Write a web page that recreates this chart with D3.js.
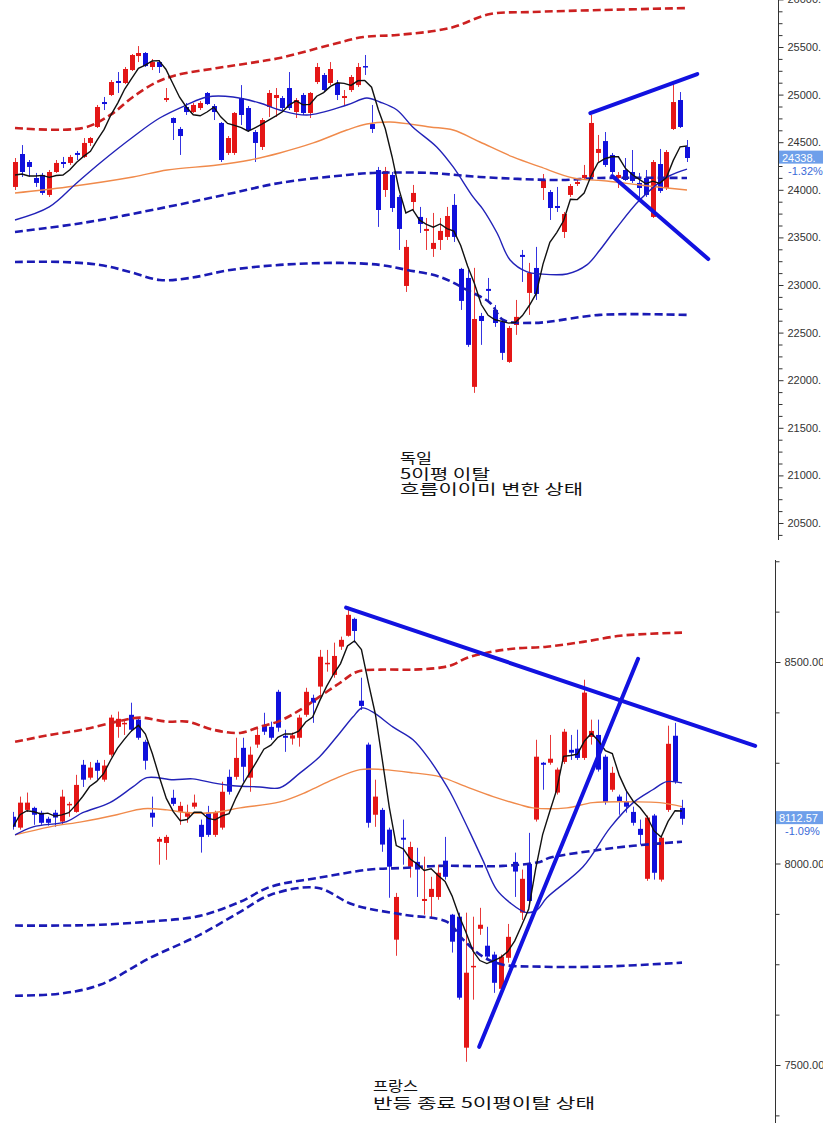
<!DOCTYPE html>
<html><head><meta charset="utf-8">
<script src="https://cdn.jsdelivr.net/npm/d3@7"></script>
<style>body{margin:0;background:#fff}svg{display:block}</style>
</head><body>
<svg id="c" width="823" height="1123"></svg>
<script>
// ===== Germany (top) daily OHLC =====
const deOpen = [24030,24376,24292,24124,24156,23946,24187,24292,24282,24387,24345,24492,24660,24922,24996,25143,25122,25258,25405,25437,25290,25342,24943,24754,24639,24870,24817,24859,25017,24880,24702,24387,24387,24964,24859,24607,24450,24870,24964,24964,25069,24817,24996,24807,25132,25206,25122,25122,24964,25048,25100,25300,24691,24208,23998,24156,23925,22990,23872,23715,23568,23379,23473,23505,23841,23169,23074,21930,22675,22959,22738,22612,22192,22580,23316,22917,23179,24019,23977,23830,23557,23946,24061,24124,24135,24387,24512,24366,24124,24208,24187,24072,24124,23715,24271,24019,24639,24943,24450];
const deHigh = [24334,24470,24313,24177,24177,24208,24313,24345,24366,24408,24544,24555,24891,24975,25153,25237,25290,25426,25510,25447,25374,25363,25069,24760,24660,24912,24912,24933,25027,24901,24712,24565,24817,25100,24880,24628,24754,25048,25069,24985,25237,24964,25017,25027,25332,25227,25342,25153,25048,25206,25332,25416,24891,24240,24240,24187,23946,23473,24051,23820,23704,23757,23704,23820,23956,23180,23158,23180,22707,23074,22790,22633,22570,22843,23368,23232,23400,24166,23998,24030,23767,24061,24103,24261,24786,24576,24607,24387,24187,24334,24418,24177,24208,24313,24429,24418,25143,25027,24523];
const deLow = [23998,24135,24135,24030,23946,23925,24177,24229,24261,24313,24334,24460,24649,24838,24985,25017,25111,25248,25342,25290,25258,25227,24922,24523,24366,24786,24807,24838,24891,24733,24292,24366,24366,24681,24607,24292,24418,24765,24765,24838,24838,24754,24786,24754,25111,25027,25100,24943,24891,25027,25080,25206,24597,23610,23925,23767,23368,22927,23788,23547,23368,23295,23368,23473,23452,22738,22350,21867,22371,22822,22560,22213,22182,22476,23032,22686,22843,23893,23683,23767,23494,23925,24040,24103,24124,24292,24240,24166,24019,24093,24072,23893,23925,23704,23967,23998,24628,24649,24292];
const deClose = [24292,24187,24240,24072,23967,24187,24282,24271,24345,24366,24492,24544,24870,24901,25132,25122,25269,25416,25437,25300,25342,25290,24964,24702,24565,24817,24891,24912,24901,24817,24313,24544,24807,24786,24628,24492,24733,25017,24996,24859,24859,24943,24807,25017,25290,25048,25269,24996,24985,25185,25290,25290,24639,23788,24198,23809,23589,23400,23967,23641,23589,23442,23568,23725,23505,22833,22371,22643,22622,22938,22601,22287,22549,22665,23295,23127,22906,24103,23809,23809,23746,24040,24082,24156,24702,24429,24261,24187,24156,24103,24093,24019,23946,24292,23988,24397,24922,24660,24334];
const deMa5Head = [24156,24166,24145,24145];
// lines: [candle index, value]
const deMa20 = [[0,23683],[5,23820],[9,24072],[12.4,24282],[17.2,24555],[21.1,24754],[25,24891],[28,24975],[31.8,24975],[35.7,24912],[38.6,24838],[42.6,24786],[48.4,24891],[51.3,24964],[53.2,24922],[55.7,24838],[58,24660],[61.5,24450],[63.9,24240],[66.8,23925],[68.2,23800],[70.3,23546],[72.2,23263],[74.7,23137],[76.6,23116],[80.5,23116],[83.4,23211],[85.3,23368],[87.5,23578],[91.1,23893],[95.1,24134],[98,24218]];
const deMa60 = [[0,23967],[7.6,24030],[17.2,24135],[22.2,24208],[29.5,24260],[34.3,24313],[38.6,24387],[43.5,24492],[48.4,24628],[51.3,24691],[54.7,24712],[60.5,24660],[63.9,24628],[67.8,24502],[72.6,24345],[76.6,24240],[81.4,24124],[86.3,24093],[91.1,24051],[95.1,24019],[98,23998]];
const deEnvUpper = [[0,24649],[9.9,24649],[13.9,24786],[17.2,24975],[20.7,25132],[23.6,25206],[29.5,25279],[34.3,25332],[38.6,25384],[45.9,25520],[50.8,25605],[55.7,25626],[63.4,25699],[69.3,25846],[75.1,25867],[85.3,25888],[98,25909]];
const deEnvMid = [[0,23557],[9.9,23652],[22.2,23820],[31.8,23967],[38.6,24072],[48.4,24156],[52.2,24177],[60.5,24177],[67.8,24135],[79.5,24103],[85.3,24124],[98,24124]];
const deEnvLower = [[0,23242],[6.6,23242],[12.4,23211],[16.8,23137],[21.1,23053],[25.5,23074],[31.4,23158],[38.6,23211],[47.4,23232],[53.2,23211],[57.2,23158],[62,23085],[65.9,22948],[69.3,22812],[71.2,22633],[75.5,22602],[77.6,22612],[85.3,22686],[98,22686]];
const deTrendlines = [[[83.9,24806],[99.5,25216]],[[87.1,24145],[101.1,23273]]];
const deLast = {value:24338, label:"24338.", change:"-1.32%"};
const deNote = ["독일","5이평 이탈","흐름이이미 변한 상태"];

// ===== France (bottom) daily OHLC =====
const frOpen = [8116,8089,8133,8138,8126,8111,8126,8104,8146,8128,8245,8213,8250,8208,8270,8339,8347,8369,8357,8302,8126,8054,8051,8163,8128,8116,8141,8096,8126,8071,8089,8215,8215,8287,8213,8295,8344,8339,8426,8317,8310,8312,8369,8411,8439,8496,8468,8538,8565,8607,8404,8295,8121,8133,8084,7811,8064,7992,8004,7907,7917,7917,8007,7873,7868,7543,7744,7838,7796,7774,7689,7766,8004,7878,7999,8109,8250,8250,8176,8252,8282,8285,8262,8314,8319,8265,8183,8166,8153,8128,8086,7962,8119,7960,8133,8317,8138];
const frHigh = [8128,8166,8176,8141,8131,8116,8133,8183,8153,8220,8257,8252,8257,8257,8369,8377,8357,8399,8362,8307,8166,8066,8071,8183,8153,8146,8171,8109,8143,8131,8203,8233,8312,8312,8290,8337,8374,8352,8431,8332,8325,8369,8436,8419,8530,8530,8548,8563,8637,8610,8461,8300,8208,8138,8089,7927,8109,8054,8039,8017,7967,7997,8066,7875,7878,7878,7868,7890,7843,7781,7774,7850,8027,7985,8076,8307,8252,8319,8238,8334,8319,8332,8456,8357,8357,8270,8240,8171,8183,8141,8109,8119,8123,8069,8342,8349,8158];
const frLow = [8084,8084,8128,8096,8096,8094,8091,8096,8116,8126,8190,8208,8208,8203,8265,8312,8319,8327,8307,8233,8091,7997,8009,8143,8096,8101,8136,8027,8066,8066,8084,8171,8208,8203,8178,8287,8319,8307,8327,8277,8295,8290,8364,8349,8419,8476,8461,8530,8563,8548,8381,8089,8091,8029,7915,7771,7997,7965,7917,7873,7865,7910,7960,7779,7662,7508,7662,7823,7761,7679,7687,7754,7917,7860,7903,8104,8183,8245,8171,8247,8257,8257,8257,8295,8228,8146,8178,8121,8126,8094,8047,7957,7960,7955,8128,8198,8096];
const frClose = [8091,8151,8151,8121,8101,8101,8114,8166,8148,8195,8208,8238,8230,8243,8362,8359,8349,8332,8312,8255,8114,8061,8066,8148,8143,8128,8151,8066,8071,8126,8178,8178,8262,8240,8270,8319,8327,8312,8337,8312,8318,8362,8426,8399,8513,8498,8515,8555,8617,8577,8391,8101,8166,8047,7992,7917,8059,8041,7985,7912,7937,7977,7967,7806,7667,7729,7746,7848,7769,7704,7769,7818,7980,7962,7907,8265,8245,8260,8233,8327,8275,8262,8424,8329,8233,8153,8225,8153,8141,8101,8071,8114,7977,8064,8297,8203,8111];
const frMa5Head = [];
const frMa20 = [[0.3,8071],[2.9,8091],[7.7,8104],[10,8126],[13.9,8151],[17.2,8190],[19.2,8213],[23,8208],[25.8,8210],[28.7,8200],[31.6,8193],[35.4,8190],[38.3,8188],[41.2,8225],[44,8265],[46.9,8324],[48.8,8364],[50.1,8386],[51.6,8376],[54.5,8339],[57.4,8307],[59.8,8257],[62.3,8190],[63.1,8165],[65.6,8076],[67.4,8009],[69.4,7935],[71.3,7903],[73.7,7878],[75.2,7885],[76.6,7915],[81.8,7992],[85.7,8089],[89,8151],[91.8,8183],[93.8,8203],[96,8200]];
const frMa60 = [[0.3,8071],[5.3,8091],[10,8104],[14.9,8121],[18.7,8136],[22.1,8133],[25,8126],[28.7,8126],[32.6,8138],[38.3,8153],[42.2,8178],[45.9,8208],[49.8,8233],[53.1,8233],[57.4,8225],[61.3,8215],[65.1,8190],[68.9,8166],[72.7,8146],[74.6,8138],[79.5,8138],[83.2,8151],[89,8153],[92.8,8151],[96,8141]];
const frEnvUpper = [[0.3,8302],[5.3,8319],[10,8332],[14.9,8352],[18.2,8362],[22.1,8352],[25,8352],[28.7,8332],[32.6,8324],[35.4,8339],[38.3,8354],[41.2,8381],[44,8414],[46.9,8448],[49.4,8476],[52.7,8481],[57.4,8481],[61.3,8486],[63.1,8493],[65.1,8510],[68,8523],[71.7,8533],[76.6,8538],[81.8,8550],[87.1,8565],[91.4,8570],[96,8573]];
const frEnvMid = [[0.3,7846],[6.7,7846],[12.5,7848],[19.7,7856],[26.8,7870],[32.6,7905],[36.9,7942],[44,7965],[51.2,7985],[56,7989],[60.8,7994],[70.3,7994],[75.6,8004],[77,8014],[84.2,8034],[89,8044],[96,8054]];
const frEnvLower = [[0.3,7672],[6.7,7677],[12.5,7699],[19.7,7766],[26.8,7823],[32.6,7880],[36.9,7922],[43.6,7940],[48.8,7898],[56,7873],[62.3,7855],[64.6,7811],[67.4,7769],[70.3,7749],[75.6,7744],[84.2,7744],[96,7754]];
const frTrendlines = [[[47.8,8635],[106.5,8292]],[[66.9,7545],[89.7,8508]]];
const frLast = {value:8112.57, label:"8112.57", change:"-1.09%"};
const frNote = ["프랑스","반등 종료 5이평이탈 상태"];

// ===== drawing =====
const svg = d3.select("#c");
const UP = "#e41616", DOWN = "#1010dc";

function drawPanel(id, d, L) {
  const n = d.close.length;
  const x = d3.scaleLinear().domain([0, n - 1]).range([L.x0, L.x1]);
  const y = d3.scaleLinear().domain(L.vDomain).range(L.yRange);
  const g = svg.append("g");
  g.append("clipPath").attr("id", "clip" + id).append("rect")
    .attr("x", L.clip[0]).attr("y", L.clip[1]).attr("width", L.clip[2] - L.clip[0]).attr("height", L.clip[3] - L.clip[1]);
  const plot = g.append("g").attr("clip-path", `url(#clip${id})`);

  const bars = d3.range(n).map(i => ({i, o: d.open[i], h: d.high[i], l: d.low[i], c: d.close[i]}));
  const cx = i => Math.round(x(i));
  plot.selectAll("line.wick").data(bars).join("line").attr("class", "wick")
    .attr("x1", b => cx(b.i) + 0.5).attr("x2", b => cx(b.i) + 0.5)
    .attr("y1", b => y(b.h)).attr("y2", b => y(b.l))
    .attr("stroke", b => b.c >= b.o ? UP : DOWN).attr("stroke-width", 1).attr("stroke-opacity", 0.85);
  plot.selectAll("rect.body").data(bars).join("rect").attr("class", "body")
    .attr("x", b => cx(b.i) - 2).attr("width", 5)
    .attr("y", b => Math.min(y(b.o), y(b.c)))
    .attr("height", b => Math.max(1.5, Math.abs(y(b.o) - y(b.c))))
    .attr("fill", b => b.c >= b.o ? UP : DOWN);

  const smooth = d3.line().x(p => x(p[0])).y(p => y(p[1])).curve(d3.curveCatmullRom.alpha(0.5));
  const dash = (pts, col) => plot.append("path").attr("d", smooth(pts)).attr("fill", "none")
    .attr("stroke", col).attr("stroke-width", 2.6).attr("stroke-dasharray", "8,4");
  dash(d.envUpper, "#cc2020");
  dash(d.envMid, "#1a1ab4");
  dash(d.envLower, "#1a1ab4");
  const solid = (pts, col) => plot.append("path").attr("d", smooth(pts)).attr("fill", "none")
    .attr("stroke", col).attr("stroke-width", 1.4);
  solid(d.ma60, "#f08a4b");
  solid(d.ma20, "#2222b8");

  // 5-day average of the closes
  const ma5 = d3.range(n).map(i => i < d.ma5Head.length ? d.ma5Head[i] : d3.mean(d.close.slice(Math.max(0, i - 4), i + 1)));
  plot.append("path").attr("d", d3.line().x((v, i) => x(i)).y(v => y(v))(ma5))
    .attr("fill", "none").attr("stroke", "#111").attr("stroke-width", 1.4);

  d.trend.forEach(t => plot.append("line")
    .attr("x1", x(t[0][0])).attr("y1", y(t[0][1])).attr("x2", x(t[1][0])).attr("y2", y(t[1][1]))
    .attr("stroke", "#1212e0").attr("stroke-width", 4).attr("stroke-linecap", "round"));

  // axis
  const ax = g.append("g").attr("transform", `translate(${L.axisX},0)`);
  ax.append("line").attr("x1", 0.5).attr("x2", 0.5).attr("y1", L.axisY[0]).attr("y2", L.axisY[1]).attr("stroke", "#333");
  const ticks = d3.range(L.tickRange[0], L.tickRange[1] + 1, 125);
  const axis = d3.axisRight(y).tickValues(ticks)
    .tickFormat(v => v % 500 === 0 ? L.fmt(v) : "").tickSize(4).tickPadding(5).tickSizeOuter(0);
  const axg = ax.append("g").attr("transform", "translate(0.5,0)").call(axis);
  axg.select(".domain").remove();
  axg.selectAll(".tick line").attr("stroke", "#333").attr("x2", v => v % 500 === 0 ? 5 : 4);
  axg.selectAll(".tick text").attr("fill", "#333").attr("font-size", 11)
    .attr("font-family", "Liberation Sans, Arial, sans-serif").attr("x", 9);

  // last price tag
  const ly = y(d.last.value);
  g.append("rect").attr("x", L.axisX + 1).attr("y", ly - 7).attr("width", 50).attr("height", 13).attr("fill", "#6e9fea");
  g.append("text").attr("x", L.axisX + 4).attr("y", ly + 4).text(d.last.label)
    .attr("fill", "#fff").attr("font-size", 11).attr("font-family", "Liberation Sans, Arial, sans-serif");
  g.append("text").attr("x", L.axisX + 10).attr("y", ly + 17).text(d.last.change)
    .attr("fill", "#3a6ad8").attr("font-size", 11).attr("font-family", "Liberation Sans, Arial, sans-serif");

  // note
  d.note.forEach((s, k) => g.append("text").attr("x", L.noteX).attr("y", L.noteY + k * L.noteDy)
    .attr("font-family", "Noto Sans CJK KR, sans-serif").attr("font-size", 14).attr("fill", "#111")
    .attr("textLength", L.noteW[k]).attr("lengthAdjust", "spacingAndGlyphs").text(s));
}

drawPanel("de", {open: deOpen, high: deHigh, low: deLow, close: deClose, ma5Head: deMa5Head,
  ma20: deMa20, ma60: deMa60, envUpper: deEnvUpper, envMid: deEnvMid, envLower: deEnvLower,
  trend: deTrendlines, last: deLast, note: deNote},
  {x0: 15, x1: 687, vDomain: [20500, 25500], yRange: [523, 47], clip: [12, 0, 778, 540],
   axisX: 778, axisY: [0, 540], tickRange: [20375, 26000], fmt: v => v + ".",
   noteX: 400, noteY: 463, noteDy: 15.5, noteW: [32, 90, 183]});

drawPanel("fr", {open: frOpen, high: frHigh, low: frLow, close: frClose, ma5Head: frMa5Head,
  ma20: frMa20, ma60: frMa60, envUpper: frEnvUpper, envMid: frEnvMid, envLower: frEnvLower,
  trend: frTrendlines, last: frLast, note: frNote},
  {x0: 13, x1: 682, vDomain: [7500, 8500], yRange: [1065, 662], clip: [13, 560, 775, 1123],
   axisX: 775, axisY: [560, 1123], tickRange: [7375, 8750], fmt: v => v.toFixed(2),
   noteX: 373, noteY: 1091, noteDy: 17, noteW: [45, 222]});
</script>
</body></html>
